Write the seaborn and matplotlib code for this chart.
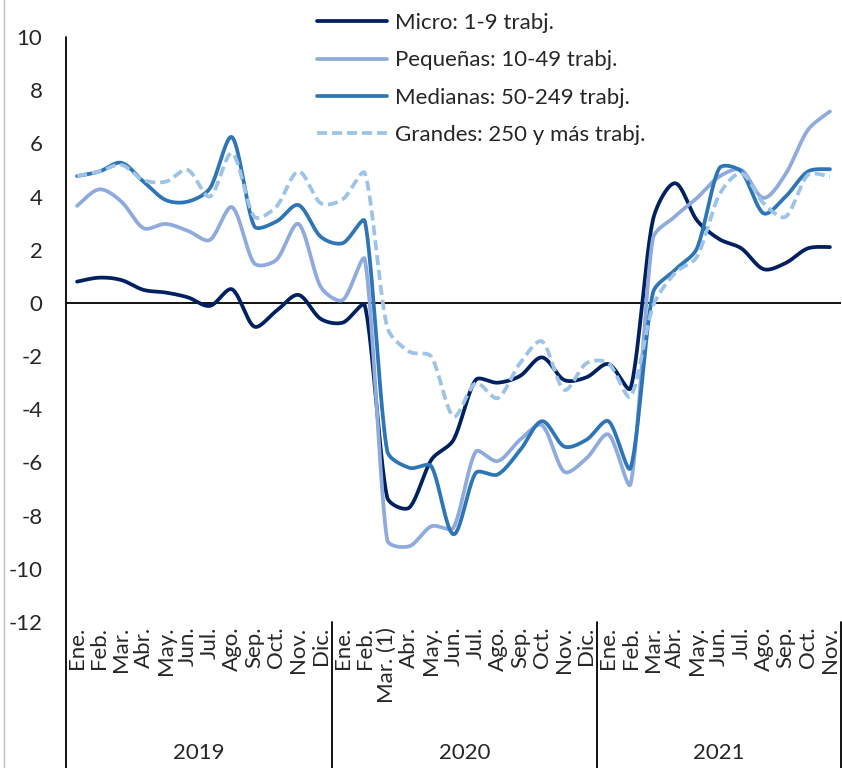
import numpy as np
import pandas as pd
import matplotlib
matplotlib.use("Agg")
import matplotlib.pyplot as plt
from matplotlib.lines import Line2D
import seaborn as sns

months = ["Ene.", "Feb.", "Mar.", "Abr.", "May.", "Jun.", "Jul.", "Ago.", "Sep.", "Oct.", "Nov.", "Dic."]
tick_labels = months + ["Ene.", "Feb.", "Mar. (1)"] + months[3:] + months[:11]
years = ["2019", "2020", "2021"]

micro = [0.80, 0.95, 0.86, 0.49, 0.39, 0.21, -0.11, 0.51, -0.89, -0.30, 0.30, -0.60,
         -0.74, -0.11, -7.30, -7.70, -5.90, -5.15, -2.90, -3.00, -2.75, -2.05, -2.90, -2.80,
         -2.30, -3.20, 3.10, 4.50, 3.10, 2.40, 2.05, 1.27, 1.50, 2.05, 2.10]
pequenas = [3.65, 4.27, 3.81, 2.81, 2.97, 2.71, 2.37, 3.60, 1.49, 1.62, 2.97, 0.61,
            0.11, 1.62, -8.90, -9.15, -8.40, -8.45, -5.60, -5.95, -5.15, -4.60, -6.35, -5.85,
            -4.95, -6.80, 2.40, 3.25, 3.95, 4.75, 5.00, 3.95, 4.85, 6.50, 7.20]
medianas = [4.77, 4.94, 5.27, 4.56, 3.87, 3.81, 4.31, 6.23, 2.89, 3.06, 3.68, 2.49,
            2.25, 3.06, -5.55, -6.20, -6.15, -8.70, -6.40, -6.45, -5.55, -4.45, -5.40, -5.15,
            -4.45, -6.20, 0.36, 1.24, 2.06, 5.06, 4.94, 3.37, 4.00, 4.94, 5.03]
grandes = [4.77, 4.94, 5.19, 4.62, 4.56, 5.00, 4.00, 5.63, 3.24, 3.62, 4.94, 3.75,
           3.90, 4.87, -0.90, -1.83, -2.02, -4.27, -3.02, -3.58, -2.27, -1.45, -3.27, -2.27,
           -2.27, -3.52, -0.14, 1.12, 1.74, 4.06, 4.87, 3.75, 3.24, 4.81, 4.75]

series_names = ["Micro: 1-9 trabj.", "Pequeñas: 10-49 trabj.",
                "Medianas: 50-249 trabj.", "Grandes: 250 y más trabj."]
series_values = [micro, pequenas, medianas, grandes]
colors = ["#002060", "#8faadc", "#2e75b6", "#9dc3e6"]
styles = ["-", "-", "-", (0, (2.7, 1.3))]

# pixels per data unit, used to weigh the smoothing like a spreadsheet does
PX_X, PX_Y = 22.14, 26.6


def smooth(y, n=24):
    # excel-like smoothed line: bezier segments through every point,
    # tangents shortened next to long jumps to limit overshoot
    y = np.asarray(y, dtype=float)
    x = np.arange(len(y), dtype=float)
    pts = np.column_stack([x, y])
    padded = np.vstack([pts[0], pts, pts[-1]])
    scr = padded * [PX_X, PX_Y]
    t = np.linspace(0, 1, n, endpoint=False)[:, None]
    out = []
    for i in range(len(pts) - 1):
        p0, p1, p2, p3 = padded[i], padded[i + 1], padded[i + 2], padded[i + 3]
        d01 = np.linalg.norm(scr[i + 1] - scr[i])
        d12 = np.linalg.norm(scr[i + 2] - scr[i + 1])
        d23 = np.linalg.norm(scr[i + 3] - scr[i + 2])
        k1 = 2 * d12 / (d01 + d12) if d01 + d12 > 0 else 1
        k2 = 2 * d12 / (d12 + d23) if d12 + d23 > 0 else 1
        b1 = p1 + (p2 - p0) / 6 * min(k1, 1.0)
        b2 = p2 - (p3 - p1) / 6 * min(k2, 1.0)
        seg = ((1 - t) ** 3) * p1 + 3 * ((1 - t) ** 2) * t * b1 + 3 * (1 - t) * t ** 2 * b2 + t ** 3 * p2
        out.append(seg)
    out.append(pts[-1][None, :])
    out = np.vstack(out)
    return out[:, 0], out[:, 1]


sns.set_theme(style="white")
plt.rcParams["font.family"] = ["Lato", "DejaVu Sans"]
plt.rcParams["axes.unicode_minus"] = False

fig = plt.figure(figsize=(8.42, 7.68), dpi=100)
ax = fig.add_axes([66 / 842, 146 / 768, 775 / 842, 585 / 768])

for name, vals, col, ls in zip(series_names, series_values, colors, styles):
    sx, sy = smooth(vals)
    df = pd.DataFrame({"x": sx, "y": sy})
    sns.lineplot(data=df, x="x", y="y", ax=ax, color=col, linewidth=2.7,
                 linestyle=ls, sort=False, estimator=None, label=name, legend=False)

ax.axhline(0, color="black", linewidth=1.3, zorder=1)
ax.set_xlim(-0.5, len(micro) - 0.5)
ax.set_ylim(-12, 10)
ax.set_yticks(range(-12, 11, 2))
ax.set_xticks(range(len(micro)))
ax.set_xticklabels(tick_labels, rotation=90, fontsize=16)
ax.tick_params(axis="y", length=0, pad=17, labelsize=16)
ax.tick_params(axis="x", length=0, pad=3.5)
ax.set_xlabel("")
ax.set_ylabel("")
for s in ax.spines.values():
    s.set_visible(False)

# axis line and year separators running down through the category area
bottom = -146 / 585
trans = ax.get_xaxis_transform()
ax.plot([-0.5, -0.5], [1, bottom], transform=trans, color="black", lw=1.3, clip_on=False)
for xs in [11.5, 23.5, 34.5]:
    ax.plot([xs, xs], [0, bottom], transform=trans, color="black", lw=1.3, clip_on=False)
for yr, xc in zip(years, [5.5, 17.5, 29]):
    ax.text(xc, -131 / 585, yr, transform=trans, ha="center", va="center", fontsize=16)

handles = [Line2D([], [], color=c, lw=2.7, linestyle=ls) for c, ls in zip(colors, styles)]
fig.legend(handles, series_names, loc="upper left", bbox_to_anchor=(317 / 842, 1 - 13 / 768),
           frameon=False, fontsize=16, handlelength=3.15, handletextpad=0.36,
           labelspacing=0.78, borderpad=0, borderaxespad=0)

fig.add_artist(Line2D([3.5 / 842, 3.5 / 842], [0, 1], color="#bfbfbf", lw=1))

fig.savefig("out.png", dpi=100)
